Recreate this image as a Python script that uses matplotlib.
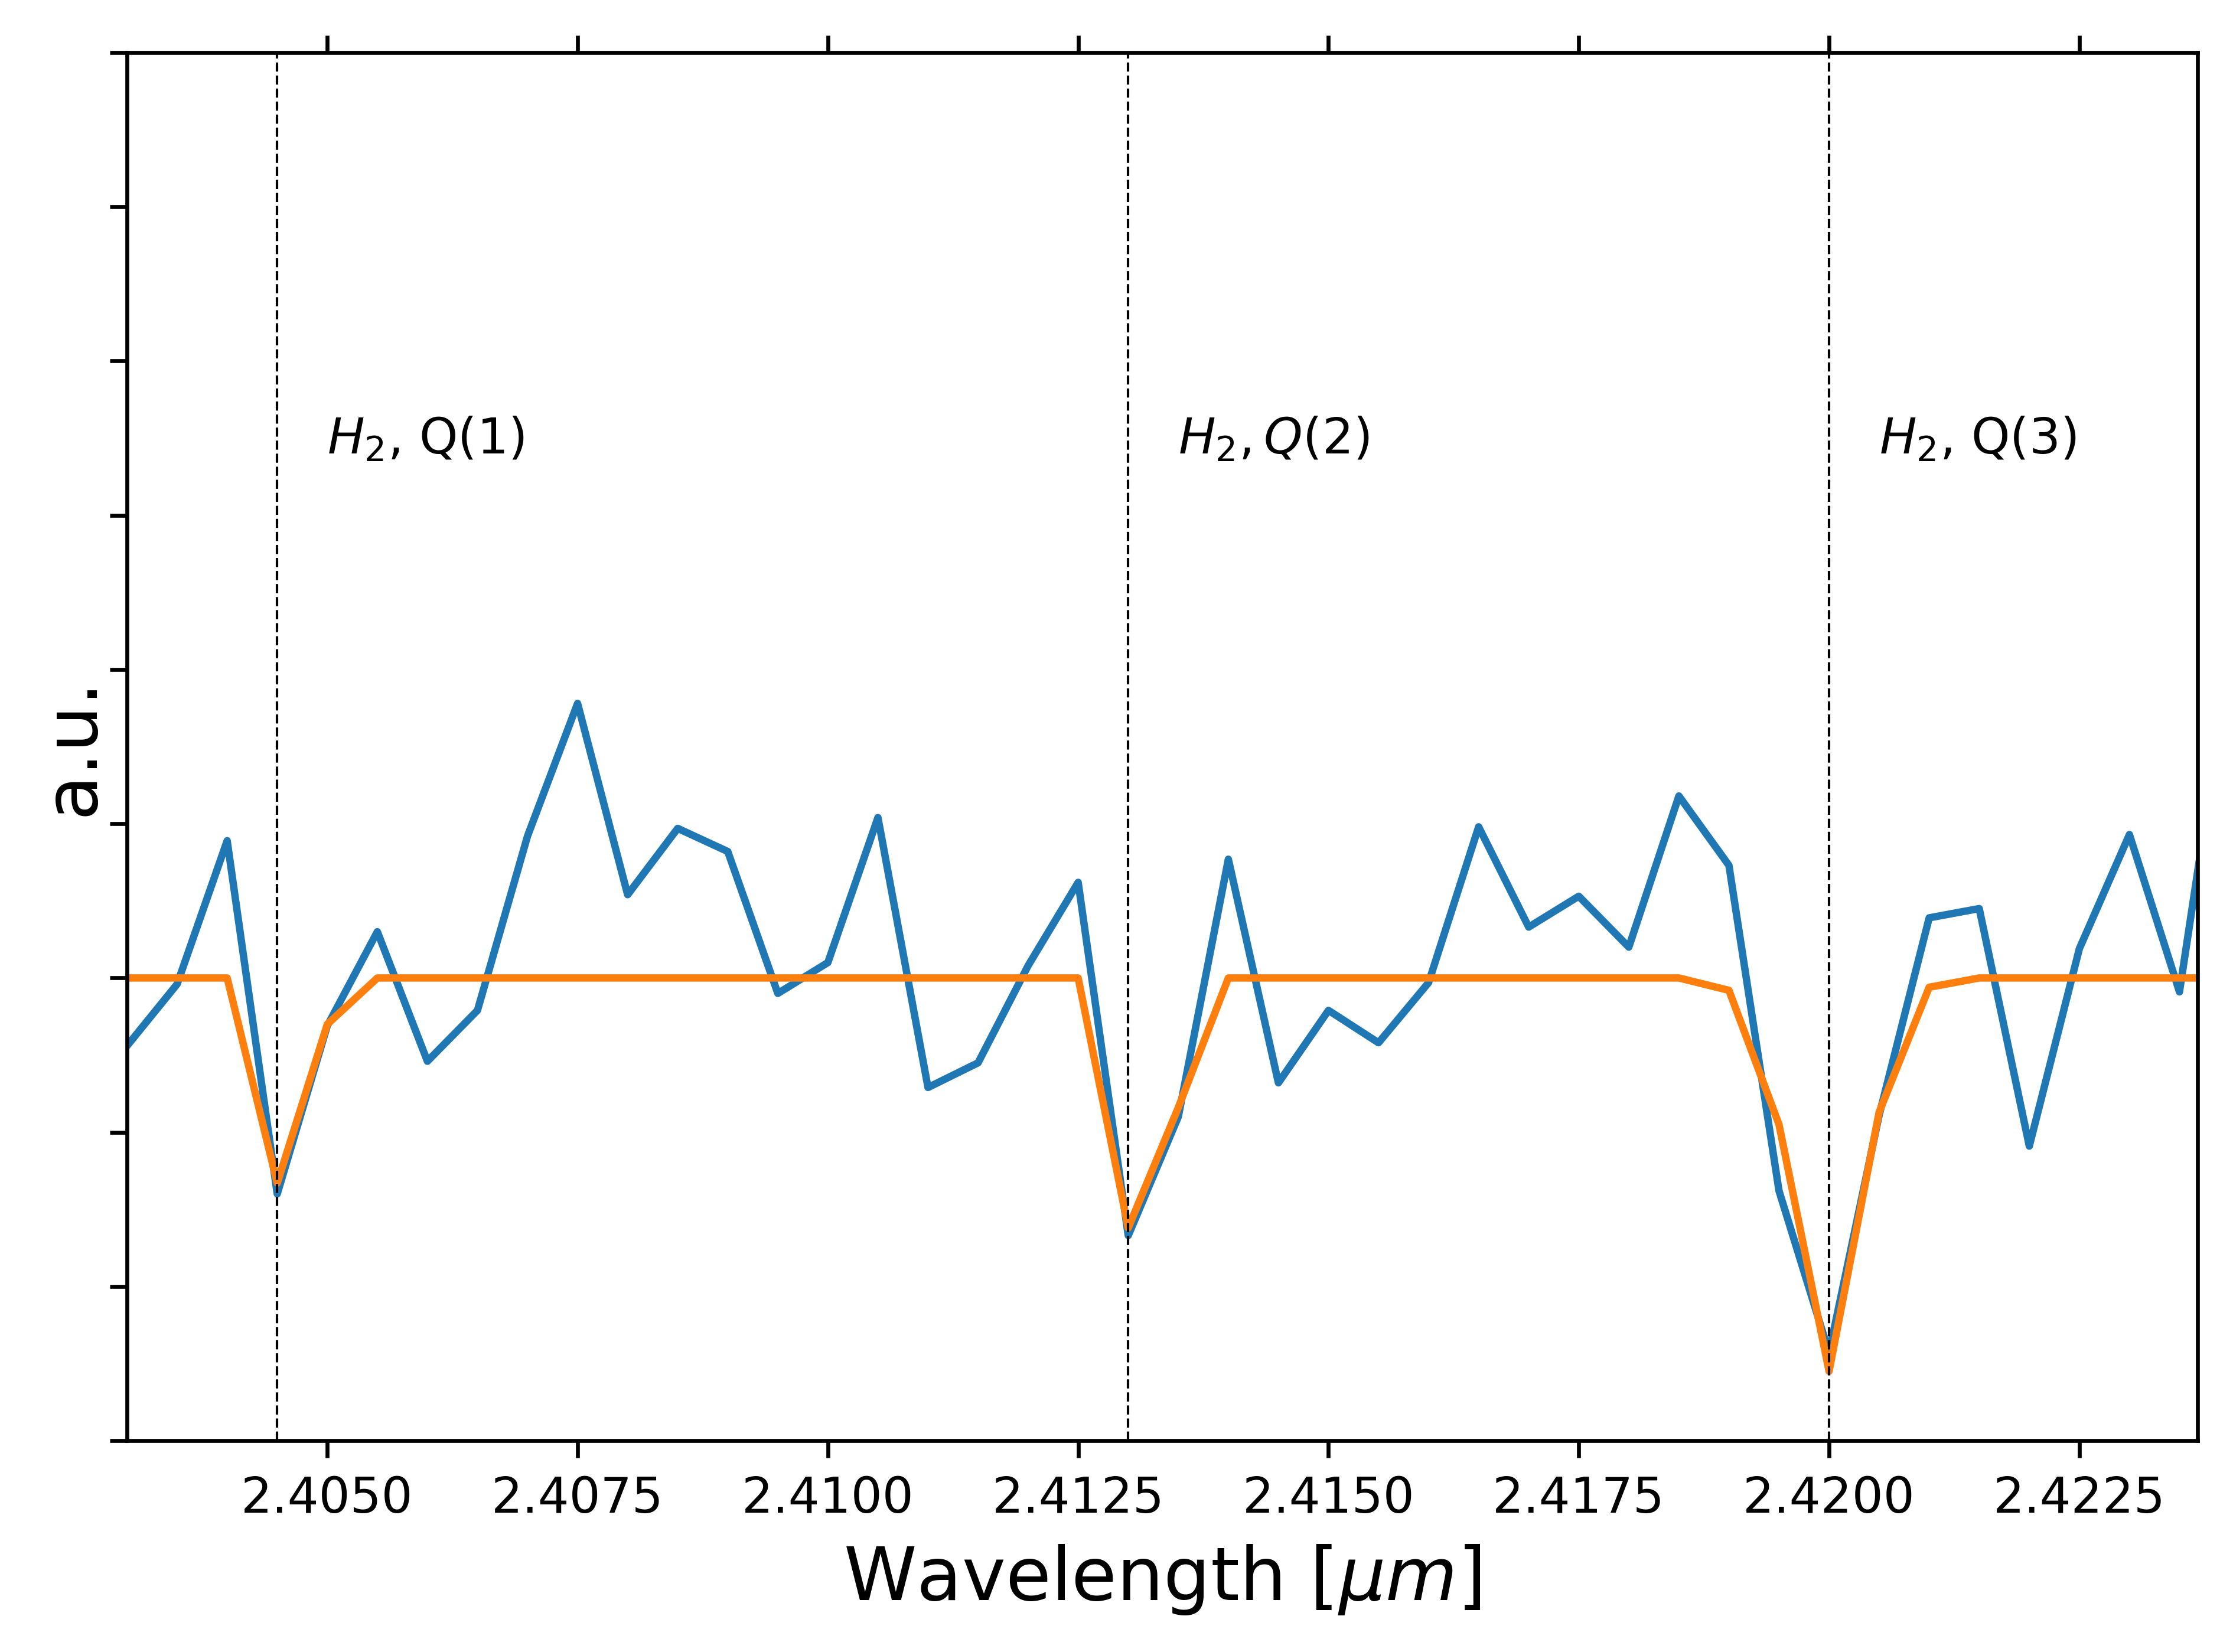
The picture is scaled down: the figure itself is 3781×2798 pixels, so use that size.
import matplotlib
matplotlib.use('Agg')
import matplotlib.pyplot as plt
from matplotlib.ticker import FormatStrFormatter

# wavelength grid of the spectrum [um]
wavelength = [2.4030, 2.4035, 2.4040, 2.4045, 2.4050, 2.4055, 2.4060, 2.4065,
              2.4070, 2.4075, 2.4080, 2.4085, 2.4090, 2.4095, 2.4100, 2.4105,
              2.4110, 2.4115, 2.4120, 2.4125, 2.4130, 2.4135, 2.4140, 2.4145,
              2.4150, 2.4155, 2.4160, 2.4165, 2.4170, 2.4175, 2.4180, 2.4185,
              2.4190, 2.4195, 2.4200, 2.4205, 2.4210, 2.4215, 2.4220, 2.4225,
              2.4230, 2.4235, 2.4240]

# observed spectrum (a.u.)
flux = [0.956, 0.996, 1.089, 0.860, 0.969, 1.030, 0.946, 0.979,
        1.092, 1.178, 1.054, 1.097, 1.082, 0.990, 1.010, 1.104,
        0.929, 0.945, 1.008, 1.062, 0.833, 0.910, 1.077, 0.932,
        0.979, 0.958, 0.997, 1.098, 1.033, 1.053, 1.020, 1.118,
        1.073, 0.862, 0.757, 0.911, 1.039, 1.045, 0.891, 1.019,
        1.093, 0.991, 1.206]

# model fit (a.u.)
model = [1.000, 1.000, 1.000, 0.867, 0.970, 1.000, 1.000, 1.000,
         1.000, 1.000, 1.000, 1.000, 1.000, 1.000, 1.000, 1.000,
         1.000, 1.000, 1.000, 1.000, 0.838, 0.916, 1.000, 1.000,
         1.000, 1.000, 1.000, 1.000, 1.000, 1.000, 1.000, 1.000,
         0.992, 0.905, 0.745, 0.913, 0.994, 1.000, 1.000, 1.000,
         1.000, 1.000, 1.000]

# H2 lines
line_pos = [2.4045, 2.4130, 2.4200]
line_labels = [r'$H_2$, Q(1)', r'$H_2, Q(2)$', r'$H_2$, Q(3)']
label_pos = [2.4050, 2.4135, 2.4205]
label_y = 1.34

xticks = [2.4050, 2.4075, 2.4100, 2.4125, 2.4150, 2.4175, 2.4200, 2.4225]
yticks = [0.7, 0.8, 0.9, 1.0, 1.1, 1.2, 1.3, 1.4, 1.5, 1.6]


def plot_spectrum():
    fig, ax = plt.subplots(figsize=(3781 / 600, 2798 / 600), dpi=600)
    fig.subplots_adjust(left=0.0569, right=0.9841, top=0.9682, bottom=0.1279)

    ax.plot(wavelength, flux, color='#1f77b4', lw=1.5)
    ax.plot(wavelength, model, color='#ff7f0e', lw=1.5)

    for pos in line_pos:
        ax.axvline(pos, color='black', ls='--', lw=0.5)
    for pos, label in zip(label_pos, line_labels):
        ax.text(pos, label_y, label, fontsize=10)

    ax.set_xlim(2.4030, 2.42368)
    ax.set_ylim(0.7, 1.6)
    ax.set_xticks(xticks)
    ax.set_yticks(yticks)
    ax.xaxis.set_major_formatter(FormatStrFormatter('%.4f'))
    ax.tick_params(axis='x', top=True, labeltop=False)
    ax.tick_params(axis='y', labelleft=False)

    ax.set_xlabel(r'Wavelength [$\mu m$]', fontsize=15)
    ax.set_ylabel('a.u.', fontsize=15, labelpad=0.3)

    fig.savefig('out.png', dpi=600)


if __name__ == '__main__':
    plot_spectrum()
